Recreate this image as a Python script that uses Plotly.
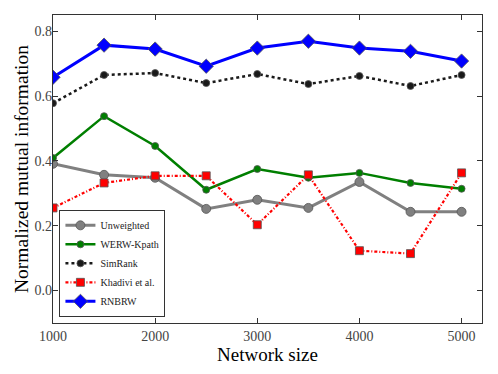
import plotly.graph_objects as go

sizes = [1000, 1500, 2000, 2500, 3000, 3500, 4000, 4500, 5000]

unweighted = [0.391, 0.357, 0.348, 0.252, 0.280, 0.255, 0.335, 0.243, 0.243]
werw_kpath = [0.409, 0.538, 0.446, 0.311, 0.375, 0.348, 0.363, 0.332, 0.314]
simrank = [0.578, 0.665, 0.671, 0.640, 0.668, 0.637, 0.662, 0.631, 0.665]
khadivi = [0.255, 0.332, 0.354, 0.354, 0.203, 0.357, 0.123, 0.114, 0.363]
rnbrw = [0.658, 0.757, 0.745, 0.692, 0.748, 0.769, 0.748, 0.738, 0.708]

x_ticks = [1000, 2000, 3000, 4000, 5000]
y_ticks = [0.0, 0.2, 0.4, 0.6, 0.8]

FONT = "Liberation Serif"

series = [
    ("Unweighted", unweighted, "#808080", "solid", 3, "circle", 9),
    ("WERW-Kpath", werw_kpath, "#007f00", "solid", 2.5, "circle", 7),
    ("SimRank", simrank, "#1a1a1a", "dot", 2.5, "circle", 7),
    ("Khadivi et al.", khadivi, "#ff0000", "3px,2px,1px,2px", 2.2, "square", 8),
    ("RNBRW", rnbrw, "#0000ff", "solid", 3, "diamond", 11),
]

fig = go.Figure()
for name, vals, color, dash, w, sym, ms in series:
    fig.add_trace(go.Scatter(
        x=sizes, y=vals, name=name, mode="lines+markers",
        line=dict(color=color, dash=dash, width=w),
        marker=dict(symbol=sym, size=ms, color=color,
                    line=dict(color="#555555", width=0.8)),
    ))

axis_common = dict(
    showgrid=False, zeroline=False, showline=True, linecolor="#333333",
    linewidth=1.2, mirror="allticks", ticks="inside", ticklen=5,
    tickcolor="#333333", tickfont=dict(family=FONT, size=14, color="#444444"),
)

# the page body adds an 8px offset, so margins are trimmed to compensate
fig.update_layout(
    width=498, height=374,
    paper_bgcolor="white", plot_bgcolor="white",
    margin=dict(l=45, r=24, t=7, b=59),
    font=dict(family=FONT),
    xaxis=dict(range=[1000, 5200], tickvals=x_ticks,
               title=dict(text="Network size", font=dict(family=FONT, size=19, color="black"),
                          standoff=1),
               **axis_common),
    yaxis=dict(range=[-0.1, 0.85], tickvals=y_ticks, tickformat=".1f",
               ticklabelstandoff=-3,
               title=dict(text="Normalized mutual information",
                          font=dict(family=FONT, size=19.5, color="black"), standoff=0),
               **axis_common),
    legend=dict(x=0.015, y=0.02, xanchor="left", yanchor="bottom",
                bgcolor="white", bordercolor="#333333", borderwidth=1,
                font=dict(family=FONT, size=10, color="#222222"),
                itemwidth=30, tracegroupgap=0),
    showlegend=True,
)

fig.write_html("out.html")
